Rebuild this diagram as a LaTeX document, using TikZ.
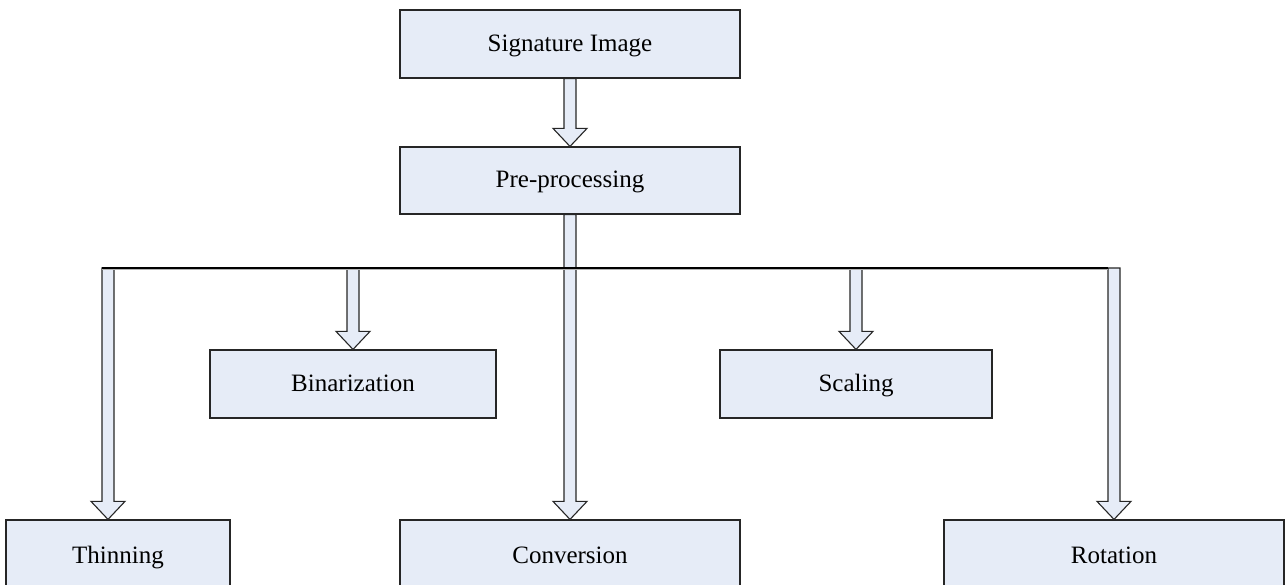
\documentclass[tikz,border=0pt]{standalone}
\usepackage{fontspec}
\setmainfont{Liberation Serif}
\usetikzlibrary{calc}
\definecolor{boxfill}{RGB}{230,236,247}
\definecolor{boxline}{RGB}{38,38,38}
\tikzset{
  labeltext/.style={font=\fontsize{25}{30}\selectfont, text height=19pt, text depth=4pt, inner sep=0pt},
  procbox/.style={draw=boxline, fill=boxfill, line width=1.2pt, labeltext},
  barrow/.style={draw=boxline, fill=boxfill, line width=1.1pt, line join=miter},
  busline/.style={draw=black, line width=2.4pt},
}
% block arrow: shaft from #1 straight down to the tip at the height of #2
\newcommand\blockarrow[2]{%
  \path[barrow] let \p1=(#1), \p2=(#2) in
    (\x1-6pt,\y1) -- (\x1-6pt,\y2+18pt) -- (\x1-17pt,\y2+18pt) -- (\x1,\y2)
    -- (\x1+17pt,\y2+18pt) -- (\x1+6pt,\y2+18pt) -- (\x1+6pt,\y1) -- cycle;}
\begin{document}
\begin{tikzpicture}[x=1pt, y=-1pt]
  \useasboundingbox (0,0) rectangle (1285,585);
  \clip (0,0) rectangle (1285,585);

  % process boxes
  \node[procbox, minimum width=340pt, minimum height=68pt] (sig)  at (570,44)    {Signature Image};
  \node[procbox, minimum width=340pt, minimum height=67pt] (pre)  at (570,180.5) {Pre-processing};
  \node[procbox, minimum width=286pt, minimum height=68pt] (bin)  at (353,384)   {Binarization};
  \node[procbox, minimum width=272pt, minimum height=68pt] (scl)  at (856,384)   {Scaling};
  \node[procbox, minimum width=224pt, minimum height=80pt] (thin) at (118,560)   {};
  \node[procbox, minimum width=340pt, minimum height=80pt] (conv) at (570,560)   {};
  \node[procbox, minimum width=340pt, minimum height=80pt] (rot)  at (1114,560)  {};
  \node[labeltext] (thintxt) at (118,555.5)  {Thinning};
  \node[labeltext] (convtxt) at (570,555.5)  {Conversion};
  \node[labeltext] (rottxt)  at (1114,555.5) {Rotation};

  % taps on the distribution bus
  \coordinate (tapthin) at (108,268);
  \coordinate (tapbin)  at (353,268);
  \coordinate (tapscl)  at (856,268);
  \coordinate (taprot)  at (1114,268);
  \coordinate (busL)    at (102,268);
  \coordinate (busR)    at (1108,268);

  % arrows
  \blockarrow{sig.south}{pre.north}
  \blockarrow{pre.south}{conv.north}
  \blockarrow{tapthin}{thin.north}
  \blockarrow{tapbin}{bin.north}
  \blockarrow{tapscl}{scl.north}
  \blockarrow{taprot}{rot.north}

  % bus line with a faint shadow
  \draw[gray!60, line width=1pt] ($(busL)+(0,1.8)$) -- ($(busR)+(0,1.8)$);
  \draw[busline] (busL) -- (busR);
\end{tikzpicture}
\end{document}
